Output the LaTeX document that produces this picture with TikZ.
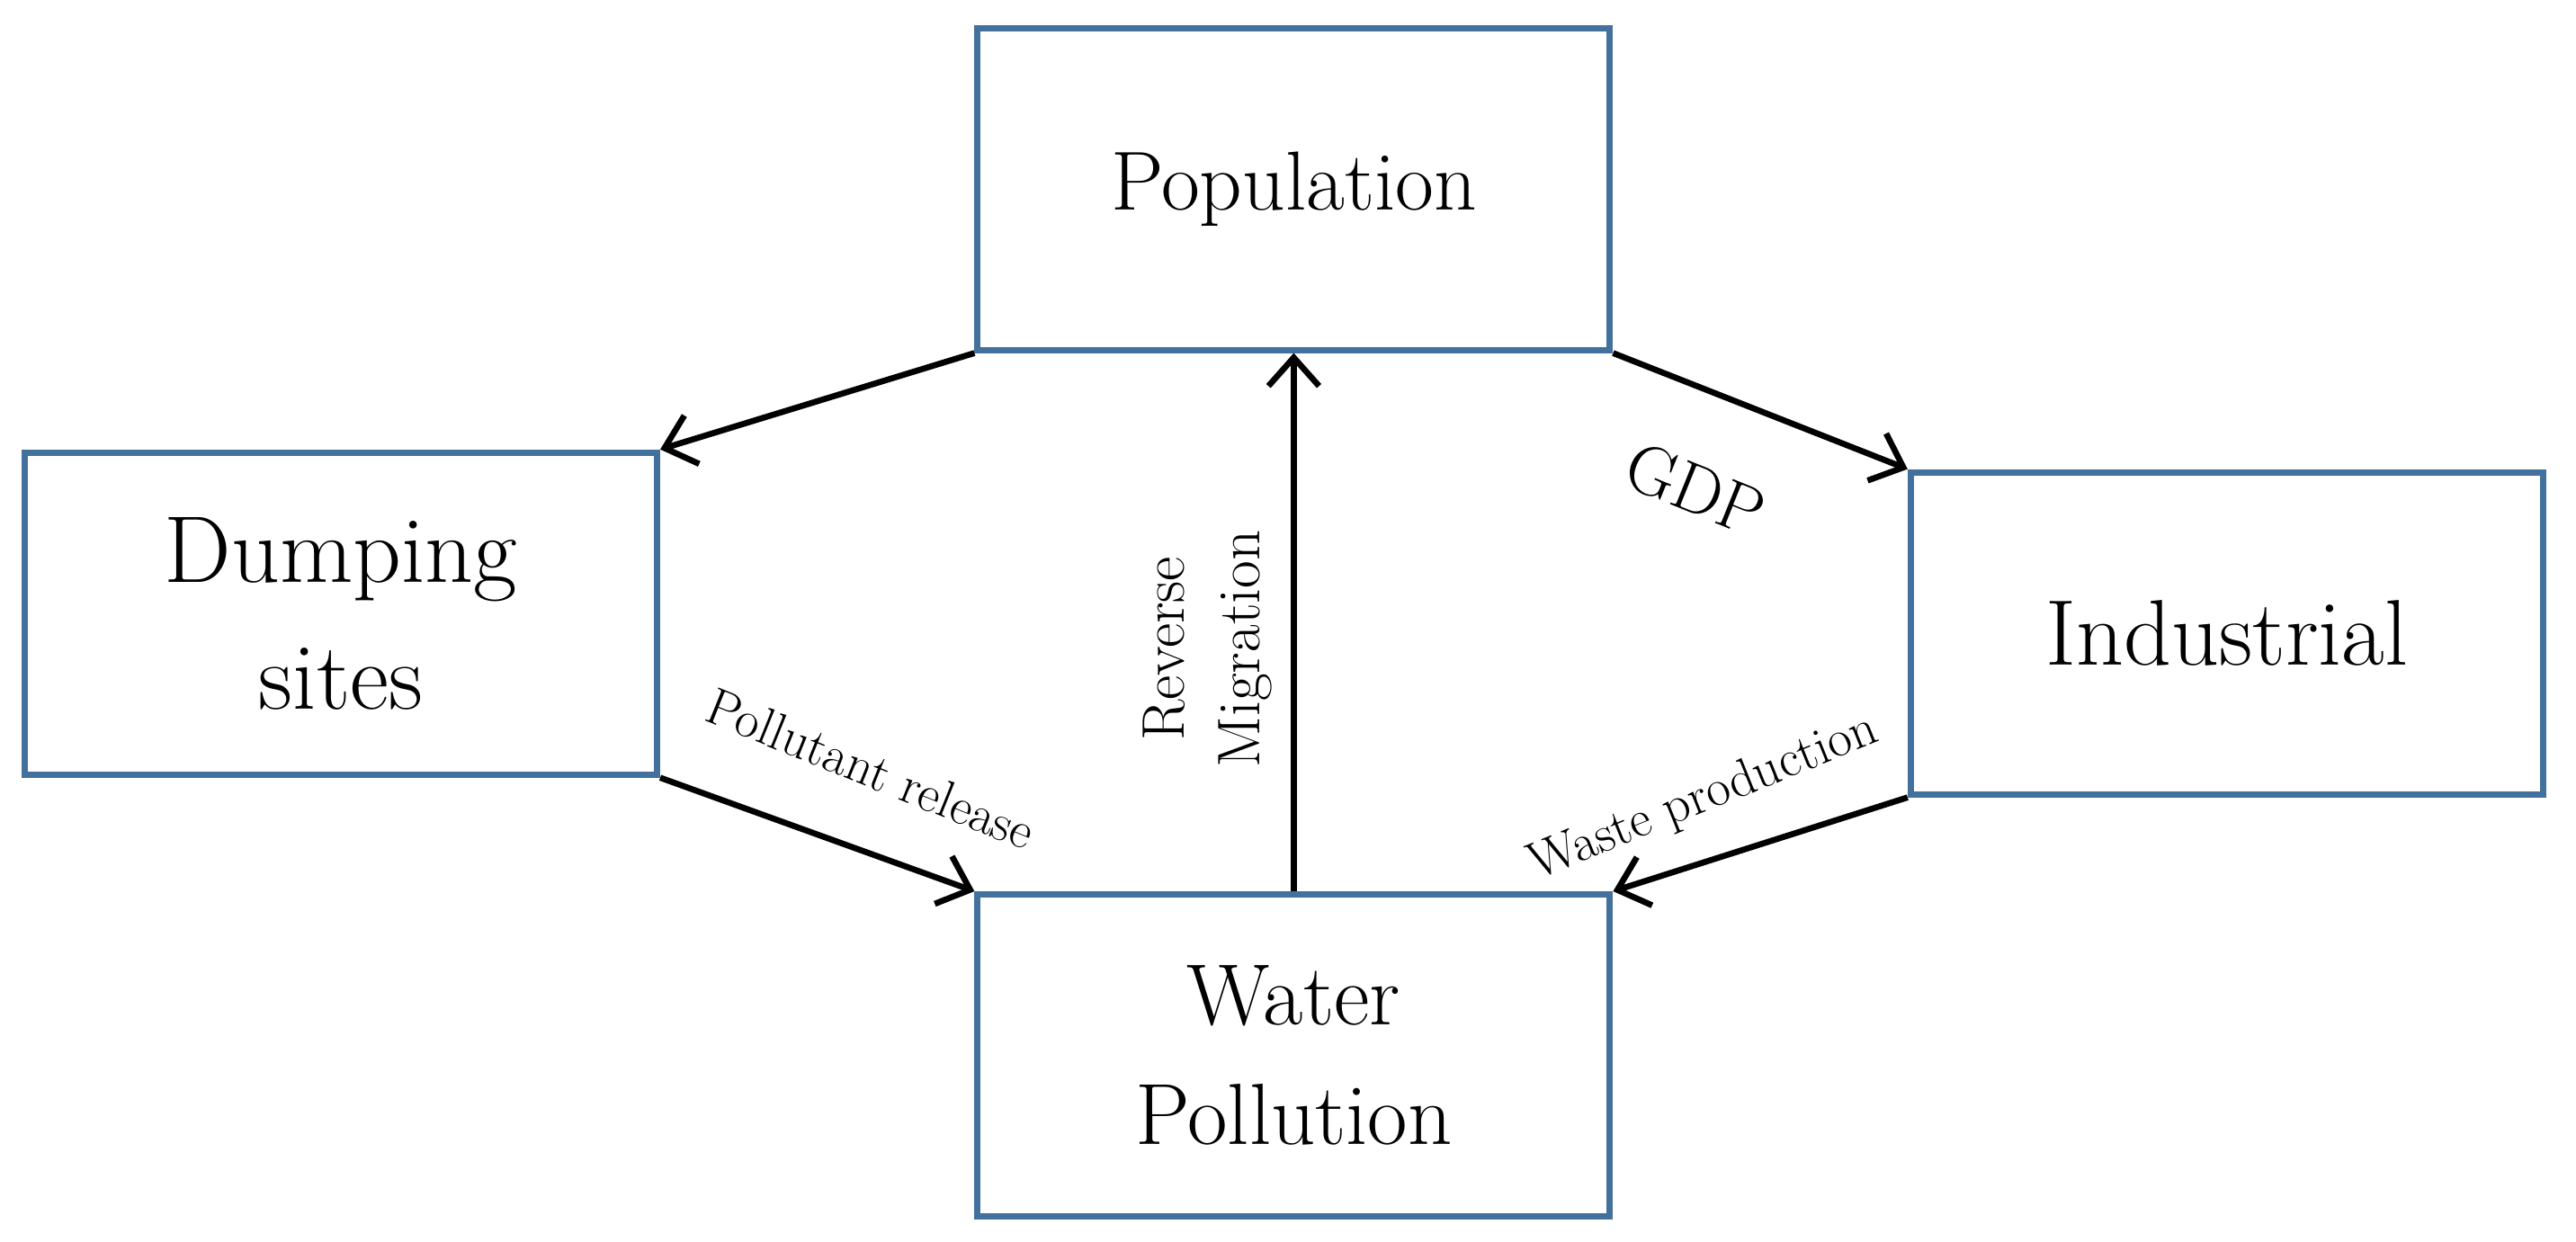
\documentclass[tikz,border=0pt]{standalone}
\usepackage{tikz}
\usetikzlibrary{arrows.meta}
\definecolor{boxblue}{HTML}{41719C}
\begin{document}
\begin{tikzpicture}[x=0.01827cm,y=-0.01827cm,
  box/.style={draw=boxblue,line width=2pt,minimum width=7.03cm,minimum height=3.58cm,inner sep=0pt,align=center},
  arr/.style={line width=1.9pt,-{Straight Barb[length=9pt,width=16pt,line width=1.9pt]}},
  lab/.style={font=\fontsize{16.5}{18}\selectfont,align=center,inner sep=1pt}]
\useasboundingbox (0,0) rectangle (1568,756);
\node[box,font=\fontsize{26.5}{30}\selectfont] (pop) at (787.5,115) {Population};
\node[box,font=\fontsize{30}{40}\selectfont] (dump) at (207.5,373.5) {Dumping\\sites};
\node[box,font=\fontsize{29.5}{34}\selectfont] (ind) at (1355.5,385.5) {Industrial};
\node[box,font=\fontsize{27.5}{38}\selectfont] (wat) at (787.5,642.5) {Water\\Pollution};
\draw[arr] (pop.south west) -- (dump.north east);
\draw[arr] (pop.south east) -- (ind.north west);
\draw[arr] (wat.north) -- (pop.south);
\draw[arr] (dump.south east) -- (wat.north west);
\draw[arr] (ind.south west) -- (wat.north east);
\node[lab,font=\fontsize{22}{24}\selectfont,rotate=-22] (gdp) at (1032,298) {GDP};
\node[lab,rotate=-22] (pr) at (530,468) {Pollutant release};
\node[lab,rotate=22] (wp) at (1037,486) {Waste production};
\node[lab,font=\fontsize{19}{24}\selectfont,rotate=90] (rm) at (735,395) {Reverse\\Migration};
\end{tikzpicture}
\end{document}
